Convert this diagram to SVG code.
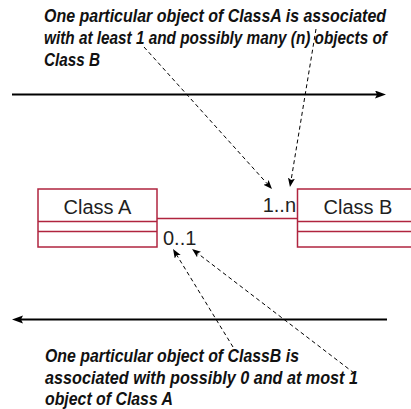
<svg xmlns="http://www.w3.org/2000/svg" width="411" height="409" viewBox="0 0 411 409">
<style>
.note{font-family:"Liberation Sans",Arial,sans-serif;font-weight:bold;font-style:italic;font-size:18.5px;fill:#111;}
.lbl{font-family:"Liberation Sans",Arial,sans-serif;font-size:20px;fill:#1f1f1f;}
.box{fill:#fff;stroke:#b0243f;stroke-width:1.5;}
.div{stroke:#b0243f;stroke-width:1.5;fill:none;}
.assoc{stroke:#b0243f;stroke-width:1.5;fill:none;}
.main{stroke:#000;stroke-width:2;fill:none;}
.dash{stroke:#000;stroke-width:1;stroke-dasharray:4,3;fill:none;}
</style>
<defs>
<marker id="bigArrow" markerUnits="userSpaceOnUse" markerWidth="12" markerHeight="9" refX="2" refY="4" orient="auto">
<path d="M0,0 L11,4 L0,8 L2,4 Z" fill="#000"/>
</marker>
<marker id="smallArrow" markerUnits="userSpaceOnUse" markerWidth="10" markerHeight="8" refX="2" refY="3.5" orient="auto">
<path d="M0,0 L9,3.5 L0,7 L2,3.5 Z" fill="#000"/>
</marker>
</defs>

<g id="note-top">
<g transform="translate(44,0) scale(0.78,1)">
<text class="note" x="0" y="22" textLength="438.5" lengthAdjust="spacingAndGlyphs">One particular object of ClassA is associated</text>
<text class="note" x="0" y="44" textLength="439.7" lengthAdjust="spacingAndGlyphs">with at least 1 and possibly many (n) objects of</text>
<text class="note" x="0" y="66" textLength="71.8" lengthAdjust="spacingAndGlyphs">Class B</text>
</g>
</g>

<g id="note-bottom">
<g transform="translate(45,0) scale(0.78,1)">
<text class="note" x="0" y="362" textLength="325.6" lengthAdjust="spacingAndGlyphs">One particular object of ClassB is</text>
<text class="note" x="0" y="384" textLength="401.3" lengthAdjust="spacingAndGlyphs">associated with possibly 0 and at most 1</text>
<text class="note" x="0" y="405.5" textLength="164.1" lengthAdjust="spacingAndGlyphs">object of Class A</text>
</g>
</g>

<g id="classA">
<rect class="box" x="38" y="189" width="119" height="58"/>
<line class="div" x1="38" y1="221.5" x2="157" y2="221.5"/>
<line class="div" x1="38" y1="231.5" x2="157" y2="231.5"/>
<text class="lbl" x="97.5" y="213.5" text-anchor="middle">Class A</text>
</g>

<g id="classB">
<rect class="box" x="297.5" y="189" width="120" height="58"/>
<line class="div" x1="297.5" y1="221.5" x2="417.5" y2="221.5"/>
<line class="div" x1="297.5" y1="231.5" x2="417.5" y2="231.5"/>
<text class="lbl" x="358" y="213.5" text-anchor="middle">Class B</text>
</g>

<g id="connectors">
<line class="assoc" x1="157" y1="218.5" x2="297.5" y2="218.5"/>
<text class="lbl" x="296" y="212" text-anchor="end">1..n</text>
<text class="lbl" x="163" y="245">0..1</text>
<line class="main" x1="12" y1="94.5" x2="377" y2="94.5" marker-end="url(#bigArrow)"/>
<line class="main" x1="387" y1="319.5" x2="21" y2="319.5" marker-end="url(#bigArrow)"/>
<line class="dash" x1="144" y1="47" x2="267.3" y2="183.8" marker-end="url(#smallArrow)"/>
<line class="dash" x1="316" y1="29" x2="291.1" y2="180.1" marker-end="url(#smallArrow)"/>
<line class="dash" x1="233" y1="347" x2="176.7" y2="255" marker-end="url(#smallArrow)"/>
<line class="dash" x1="354" y1="373" x2="197.6" y2="253.3" marker-end="url(#smallArrow)"/>
</g>
</svg>
